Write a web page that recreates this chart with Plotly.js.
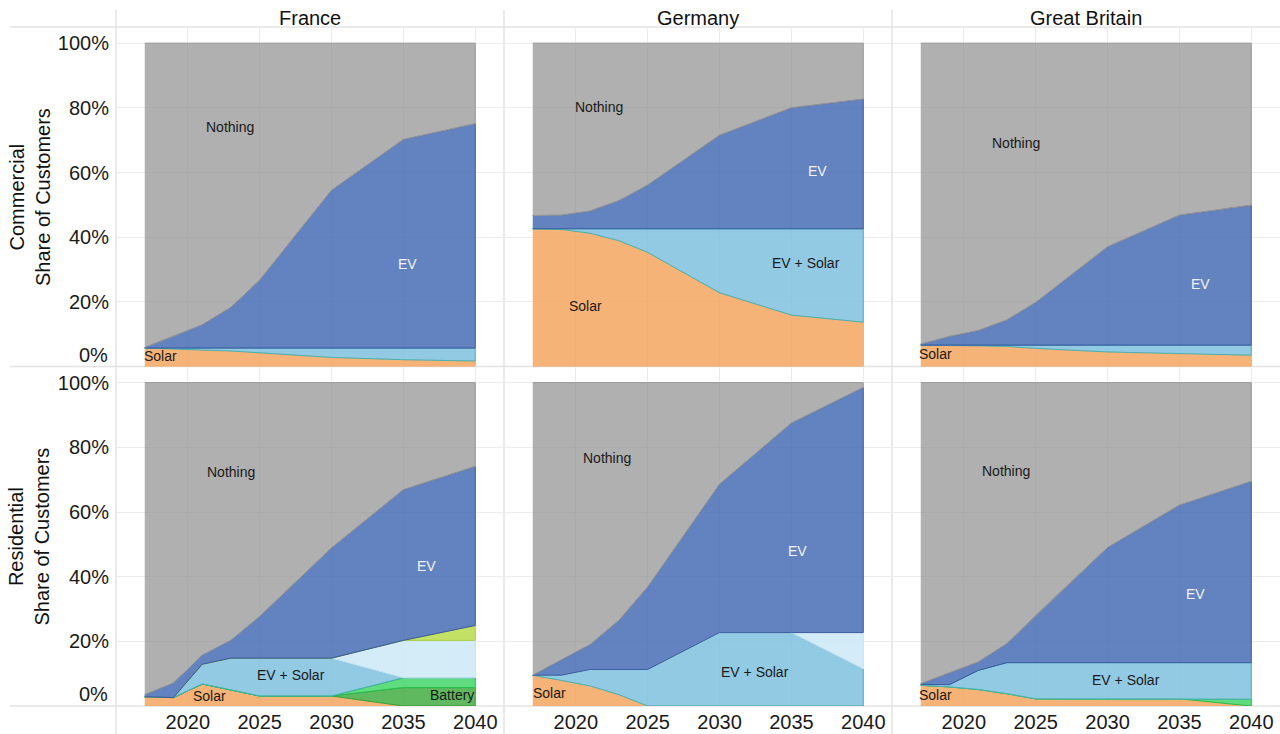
<!DOCTYPE html>
<html>
<head>
<meta charset="utf-8">
<script src="https://cdn.plot.ly/plotly-3.0.1.min.js"></script>
<style>
  html, body { margin: 0; padding: 0; background: #ffffff; }
  #chart { width: 1280px; height: 734px; }
</style>
</head>
<body>
<div id="chart"></div>
<script>
// Years on the x axis
const years = [2017, 2019, 2021, 2023, 2025, 2030, 2035, 2040];

const countries = ['France', 'Germany', 'Great Britain'];
const segments = ['Commercial', 'Residential'];

// Share axis ticks
const shareTicks = [20, 40, 60, 80, 100];
const shareTickLabels = ['20%', '40%', '60%', '80%', '100%'];

// Share of customers (%) by technology mix, commercial segment
const franceCommercialSolar   = [5.7, 5.4, 5.1, 4.8, 4.3, 2.8, 2.1, 1.7];
const franceCommercialEvSolar = [0.0, 0.3, 0.6, 0.9, 1.4, 2.9, 3.6, 4.0];
const franceCommercialEv      = [0.2, 3.6, 7.2, 12.6, 21.0, 48.8, 64.5, 69.4];

const germanyCommercialSolar   = [42.6, 42.4, 41.2, 38.9, 35.3, 22.8, 15.9, 13.7];
const germanyCommercialEvSolar = [0.0, 0.2, 1.4, 3.7, 7.3, 19.8, 26.7, 28.9];
const germanyCommercialEv      = [4.1, 4.2, 5.5, 8.7, 13.5, 28.9, 37.4, 40.1];

const britainCommercialSolar   = [6.6, 6.5, 6.4, 6.2, 5.6, 4.5, 3.9, 3.5];
const britainCommercialEvSolar = [0.0, 0.1, 0.2, 0.4, 1.0, 2.1, 2.7, 3.1];
const britainCommercialEv      = [0.3, 2.7, 4.5, 7.8, 13.2, 30.4, 40.2, 43.3];

// Share of customers (%) by technology mix, residential segment
const franceResidentialSolar          = [2.8, 2.6, 6.8, 5.0, 3.1, 3.1, 0.0, 0.0];
const franceResidentialBattery        = [0, 0, 0, 0, 0, 0, 5.7, 5.7];
const franceResidentialSolarBattery   = [0, 0, 0, 0, 0, 0, 3.0, 3.0];
const franceResidentialEvSolar        = [0.0, 0.0, 6.1, 9.8, 11.7, 11.7, 0.0, 0.0];
const franceResidentialEvSolarBattery = [0, 0, 0, 0, 0, 0, 11.6, 11.6];
const franceResidentialEvBattery      = [0, 0, 0, 0, 0, 0, 0, 4.6];
const franceResidentialEv             = [0.7, 4.5, 2.8, 5.5, 12.9, 34.1, 46.6, 49.2];

const germanyResidentialSolar          = [9.5, 7.9, 6.2, 3.5, 0, 0, 0, 0];
const germanyResidentialEvSolar        = [0.0, 1.6, 5.1, 7.8, 11.3, 22.7, 22.7, 11.5];
const germanyResidentialEvSolarBattery = [0, 0, 0, 0, 0, 0, 0, 11.2];
const germanyResidentialEv             = [0.0, 4.8, 7.7, 15.2, 25.5, 45.9, 64.8, 75.8];

const britainResidentialSolar        = [6.4, 5.9, 5.1, 3.8, 2.2, 2.1, 2.2, 0.0];
const britainResidentialSolarBattery = [0, 0, 0, 0, 0, 0, 0, 2.1];
const britainResidentialEvSolar      = [0.3, 0.7, 5.9, 9.6, 11.2, 11.3, 11.2, 11.3];
const britainResidentialEv           = [0.2, 3.7, 2.6, 5.9, 14.6, 35.6, 48.7, 56.1];

// Stack order, bottom to top
const stackOrder = ['solar', 'battery', 'solarBattery', 'evSolar', 'evSolarBattery', 'evBattery', 'ev', 'nothing'];

const styles = {
  solar:          { name: 'Solar',                fill: 'rgba(244,166,96,0.85)',  line: 'rgb(242,168,104)' },
  battery:        { name: 'Battery',              fill: 'rgba(67,173,67,0.85)',   line: 'rgb(52,165,60)' },
  solarBattery:   { name: 'Solar + Battery',      fill: 'rgba(67,214,102,0.85)',  line: 'rgb(40,190,80)' },
  evSolar:        { name: 'EV + Solar',           fill: 'rgba(128,193,222,0.85)', line: 'rgb(70,178,176)' },
  evSolarBattery: { name: 'EV + Solar + Battery', fill: 'rgba(204,233,247,0.85)', line: 'rgb(200,230,246)' },
  evBattery:      { name: 'EV + Battery',         fill: 'rgba(184,220,73,0.85)',  line: 'rgb(168,206,62)' },
  ev:             { name: 'EV',                   fill: 'rgba(70,108,181,0.85)',  line: 'rgb(58,92,160)' },
  nothing:        { name: 'Nothing',              fill: 'rgba(150,150,150,0.75)', line: 'rgb(150,150,150)' }
};

// Panels: row 0 = Commercial, row 1 = Residential; columns follow countries
const panels = [
  { row: 0, col: 0, series: { solar: franceCommercialSolar, evSolar: franceCommercialEvSolar, ev: franceCommercialEv } },
  { row: 0, col: 1, series: { solar: germanyCommercialSolar, evSolar: germanyCommercialEvSolar, ev: germanyCommercialEv } },
  { row: 0, col: 2, series: { solar: britainCommercialSolar, evSolar: britainCommercialEvSolar, ev: britainCommercialEv } },
  { row: 1, col: 0, series: { solar: franceResidentialSolar, battery: franceResidentialBattery,
                              solarBattery: franceResidentialSolarBattery, evSolar: franceResidentialEvSolar,
                              evSolarBattery: franceResidentialEvSolarBattery, evBattery: franceResidentialEvBattery,
                              ev: franceResidentialEv } },
  { row: 1, col: 1, series: { solar: germanyResidentialSolar, evSolar: germanyResidentialEvSolar,
                              evSolarBattery: germanyResidentialEvSolarBattery, ev: germanyResidentialEv } },
  { row: 1, col: 2, series: { solar: britainResidentialSolar, solarBattery: britainResidentialSolarBattery,
                              evSolar: britainResidentialEvSolar, ev: britainResidentialEv } }
];

// In-plot labels for each panel: [text, year, share, dark text?]
const panelLabels = [
  [['Nothing', 2022.9, 74.2, true], ['EV', 2035.3, 31.6, false], ['Solar', 2018.1, 3.2, true]],
  [['Nothing', 2021.6, 80.3, true], ['EV', 2036.8, 60.6, false], ['EV + Solar', 2036.0, 31.9, true], ['Solar', 2020.7, 18.6, true]],
  [['Nothing', 2023.6, 69.2, true], ['EV', 2036.5, 25.4, false], ['Solar', 2018.0, 3.8, true]],
  [['Nothing', 2023.0, 72.3, true], ['EV', 2036.6, 43.2, false], ['EV + Solar', 2027.2, 9.5, true],
   ['Solar', 2021.5, 3.0, true], ['Battery', 2038.4, 3.3, true]],
  [['Nothing', 2022.2, 76.7, true], ['EV', 2035.4, 47.8, false], ['EV + Solar', 2032.45, 10.4, true], ['Solar', 2018.15, 3.9, true]],
  [['Nothing', 2022.9, 72.6, true], ['EV', 2036.1, 34.5, false], ['EV + Solar', 2031.3, 7.9, true], ['Solar', 2018.0, 3.3, true]]
];

const FONT = 'Arial, "Liberation Sans", sans-serif';
const traces = [];
const layout = {
  width: 1280, height: 734,
  margin: { l: 116, r: 0, t: 27, b: 28 },
  paper_bgcolor: '#ffffff', plot_bgcolor: '#ffffff',
  showlegend: false,
  font: { family: FONT, color: '#1a1a1a' },
  annotations: [], shapes: []
};

panels.forEach((p, idx) => {
  const n = idx + 1;
  const xa = n === 1 ? 'x' : 'x' + n;
  const ya = n === 1 ? 'y' : 'y' + n;

  // cumulative stack, then a closed polygon per layer
  let lower = years.map(() => 0);
  const used = years.map(() => 0);
  stackOrder.forEach(key => { if (key !== 'nothing' && p.series[key]) p.series[key].forEach((v, i) => used[i] += v); });
  const series = Object.assign({}, p.series, { nothing: used.map(u => 100 - u) });

  stackOrder.forEach(key => {
    const vals = series[key];
    if (!vals) return;
    const upper = lower.map((l, i) => l + vals[i]);
    traces.push({
      type: 'scatter', mode: 'lines',
      x: years.concat(years.slice().reverse()),
      y: upper.concat(lower.slice().reverse()),
      fill: 'toself', fillcolor: styles[key].fill,
      line: { color: styles[key].line, width: 1 },
      name: styles[key].name, hoveron: 'fills', hoverinfo: 'name',
      xaxis: xa, yaxis: ya
    });
    lower = upper;
  });

  const xDom = [p.col / 3, (p.col + 1) / 3];
  const yDom = p.row === 0 ? [0.5, 1] : [0, 0.5];
  layout['xaxis' + (n === 1 ? '' : n)] = {
    domain: xDom, anchor: ya, range: [2015, 2042],
    tickvals: [2020, 2025, 2030, 2035, 2040],
    showticklabels: p.row === 1, ticks: '', ticklabelstandoff: 2,
    tickfont: { size: 20, family: FONT, color: '#1a1a1a' },
    showgrid: true, gridcolor: '#ebebeb', gridwidth: 1,
    zeroline: false, showline: false, fixedrange: true
  };
  layout['yaxis' + (n === 1 ? '' : n)] = {
    domain: yDom, anchor: xa, range: [0, 105],
    tickmode: 'array', tickvals: shareTicks, ticktext: shareTickLabels,
    showticklabels: p.col === 0, ticks: '', ticklabelstandoff: 6,
    tickfont: { size: 20, family: FONT, color: '#1a1a1a' },
    showgrid: true, gridcolor: '#ebebeb', gridwidth: 1,
    zeroline: false, showline: false, fixedrange: true
  };

  panelLabels[idx].forEach(([text, x, y, dark]) => {
    layout.annotations.push({
      text: text, x: x, y: y, xref: xa, yref: ya, showarrow: false,
      font: { size: 14, family: FONT, color: dark ? '#1a1a1a' : '#f2f2f2' }
    });
  });

  if (p.col === 0) {
    // zero label sits just above the baseline
    layout.annotations.push({
      text: '0%', xref: 'paper', x: 0, xanchor: 'right', xshift: -6,
      yref: ya, y: 0, yanchor: 'middle', yshift: 12, showarrow: false,
      font: { size: 20, family: FONT, color: '#1a1a1a' }
    });
  }
});

// Facet titles (countries)
countries.forEach((c, i) => {
  layout.annotations.push({
    text: c, xref: 'paper', yref: 'paper', x: (i + 0.5) / 3, y: 1.013,
    xanchor: 'center', yanchor: 'middle', showarrow: false,
    font: { size: 20, family: FONT, color: '#111111' }
  });
});

// Row titles (segments)
segments.forEach((s, i) => {
  layout.annotations.push({
    text: s + '<br>Share of Customers', xref: 'paper', yref: 'paper',
    x: -0.0745, y: i === 0 ? 0.75 : 0.25, xanchor: 'center', yanchor: 'middle',
    textangle: -90, showarrow: false,
    font: { size: 20, family: FONT, color: '#111111' }
  });
});

// Facet frame lines
const frame = { color: '#e3e3e3', width: 1.5 };
[0, 0.5, 1].forEach(y => layout.shapes.push({
  type: 'line', xref: 'paper', yref: 'paper', x0: -0.091, x1: 1, y0: y, y1: y, line: frame, layer: 'below'
}));
[0, 1 / 3, 2 / 3].forEach(x => layout.shapes.push({
  type: 'line', xref: 'paper', yref: 'paper', x0: x, x1: x, y0: 1.025, y1: -0.042, line: frame, layer: 'below'
}));

Plotly.newPlot('chart', traces, layout, { displayModeBar: false, staticPlot: true });
</script>
</body>
</html>
